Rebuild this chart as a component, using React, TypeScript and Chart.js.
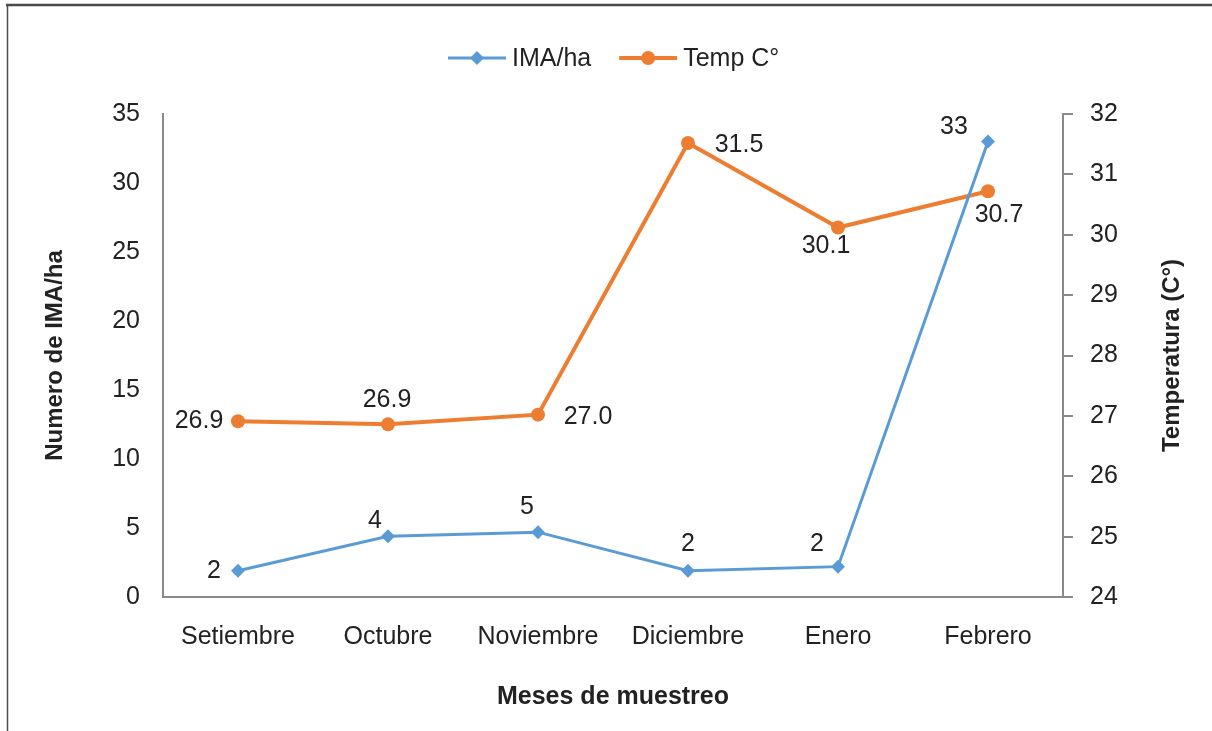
import React, { useEffect, useRef } from "react";
import { Chart, registerables } from "chart.js";

Chart.register(...registerables);

// ---- data ----
const categories = ["Setiembre", "Octubre", "Noviembre", "Diciembre", "Enero", "Febrero"];
const imaValues = [1.9, 4.4, 4.7, 1.9, 2.2, 33];
const tempValues = [26.91, 26.86, 27.02, 31.52, 30.12, 30.72];
const seriesNames = ["IMA/ha", "Temp C°"];
const leftAxisTitle = "Numero de IMA/ha";
const rightAxisTitle = "Temperatura (C°)";
const xAxisTitle = "Meses de muestreo";

// ---- style ----
const BLUE = "#5B9BD5";
const ORANGE = "#ED7D31";
const TEXT = "#222222";
const AXIS = "#8a8a8a";
const FONT = '"Liberation Sans", Arial, sans-serif';
const labelDecimals = [0, 1];
const labelOffsets: number[][][] = [
  [[-24, 0], [-13, -15], [-11, -25], [0, -27], [-21, -23], [-34, -14]],
  [[-39, 0], [-1, -24], [50, 2], [51, 2], [-12, 19], [11, 24]],
];

const pointLabelPlugin = {
  id: "pointLabels",
  afterDatasetsDraw(chart: any) {
    const ctx = chart.ctx;
    ctx.save();
    ctx.font = `25px ${FONT}`;
    ctx.fillStyle = TEXT;
    ctx.textAlign = "center";
    ctx.textBaseline = "middle";
    chart.data.datasets.forEach((ds: any, i: number) => {
      const meta = chart.getDatasetMeta(i);
      meta.data.forEach((pt: any, j: number) => {
        const v = ds.data[j] as number;
        const off = labelOffsets[i][j];
        ctx.fillText(v.toFixed(labelDecimals[i]), pt.x + off[0], pt.y + off[1]);
      });
    });
    ctx.restore();
  },
};

const decorPlugin = {
  id: "decor",
  afterDraw(chart: any) {
    const ctx = chart.ctx;
    const area = chart.chartArea;
    ctx.save();
    // frame
    ctx.strokeStyle = "#4a4a4a";
    ctx.lineWidth = 2.5;
    ctx.beginPath();
    ctx.moveTo(6, 5);
    ctx.lineTo(chart.width, 5);
    ctx.stroke();
    ctx.lineWidth = 1.5;
    ctx.beginPath();
    ctx.moveTo(7.5, 4);
    ctx.lineTo(7.5, chart.height);
    ctx.stroke();

    // right axis title (reads bottom to top)
    ctx.fillStyle = TEXT;
    ctx.font = `bold 24px ${FONT}`;
    ctx.textAlign = "center";
    ctx.textBaseline = "middle";
    ctx.translate(1172, (area.top + area.bottom) / 2);
    ctx.rotate(-Math.PI / 2);
    ctx.fillText(rightAxisTitle, 0, 0);
    ctx.setTransform(1, 0, 0, 1, 0, 0);

    // legend
    const cy = 58;
    let x = 448;
    ctx.font = `25px ${FONT}`;
    ctx.textAlign = "left";
    [0, 1].forEach((i) => {
      const ds = chart.data.datasets[i];
      const color = ds.borderColor;
      ctx.strokeStyle = color;
      ctx.lineWidth = ds.borderWidth;
      ctx.beginPath();
      ctx.moveTo(x, cy);
      ctx.lineTo(x + 58, cy);
      ctx.stroke();
      ctx.fillStyle = color;
      const mx = x + 29;
      if (ds.pointStyle === "rectRot") {
        ctx.beginPath();
        ctx.moveTo(mx, cy - 7);
        ctx.lineTo(mx + 7, cy);
        ctx.lineTo(mx, cy + 7);
        ctx.lineTo(mx - 7, cy);
        ctx.closePath();
        ctx.fill();
      } else {
        ctx.beginPath();
        ctx.arc(mx, cy, 7, 0, Math.PI * 2);
        ctx.fill();
      }
      ctx.fillStyle = TEXT;
      const tx = x + 64;
      ctx.fillText(ds.label, tx, cy + 1);
      x = tx + ctx.measureText(ds.label).width + 28;
    });
    ctx.restore();
  },
};

export default function App() {
  const ref = useRef<HTMLCanvasElement | null>(null);

  useEffect(() => {
    document.body.style.margin = "0";
    const canvas = ref.current;
    if (!canvas) return;
    const chart = new Chart(canvas, {
      type: "line",
      data: {
        labels: categories,
        datasets: [
          {
            label: seriesNames[0],
            data: imaValues,
            yAxisID: "y",
            borderColor: BLUE,
            backgroundColor: BLUE,
            borderWidth: 3,
            pointStyle: "rectRot",
            pointRadius: 7,
            pointBorderWidth: 0,
            pointBackgroundColor: BLUE,
            tension: 0,
          },
          {
            label: seriesNames[1],
            data: tempValues,
            yAxisID: "y1",
            borderColor: ORANGE,
            backgroundColor: ORANGE,
            borderWidth: 4,
            pointStyle: "circle",
            pointRadius: 7,
            pointBorderWidth: 0,
            pointBackgroundColor: ORANGE,
            tension: 0,
          },
        ],
      },
      options: {
        responsive: false,
        animation: false,
        layout: { padding: { top: 114, left: 0, right: 0, bottom: 0 } },
        plugins: {
          legend: { display: false },
          tooltip: { enabled: false },
        },
        scales: {
          x: {
            type: "category",
            offset: true,
            grid: { display: false, drawTicks: false },
            border: { display: true, color: AXIS, width: 2 },
            ticks: {
              padding: 25,
              color: TEXT,
              font: { family: FONT, size: 25 },
              maxRotation: 0,
              autoSkip: false,
            },
            title: {
              display: true,
              text: xAxisTitle,
              color: TEXT,
              font: { family: FONT, size: 25, weight: "bold" },
              padding: { top: 0, bottom: 19 },
            },
            afterFit(scale: any) {
              scale.height = 134;
            },
          },
          y: {
            position: "left",
            min: 0,
            max: 35,
            grid: { display: false, drawTicks: false },
            border: { display: true, color: AXIS, width: 2 },
            ticks: {
              stepSize: 5,
              padding: 23,
              color: TEXT,
              font: { family: FONT, size: 25 },
            },
            title: {
              display: true,
              text: leftAxisTitle,
              color: TEXT,
              font: { family: FONT, size: 24, weight: "bold" },
              padding: { top: 41, bottom: 0 },
            },
            afterFit(scale: any) {
              scale.width = 163;
            },
          },
          y1: {
            position: "right",
            min: 24,
            max: 32,
            grid: {
              display: true,
              drawOnChartArea: false,
              drawTicks: true,
              tickLength: 10,
              color: AXIS,
              lineWidth: 2,
            },
            border: { display: true, color: AXIS, width: 2 },
            ticks: {
              stepSize: 1,
              padding: 17,
              color: TEXT,
              font: { family: FONT, size: 25 },
            },
            title: { display: false },
            afterFit(scale: any) {
              scale.width = 149;
            },
          },
        },
      },
      plugins: [pointLabelPlugin, decorPlugin],
    } as any);
    return () => chart.destroy();
  }, []);

  return (
    <div style={{ width: 1212, height: 731 }}>
      <canvas ref={ref} width={1212} height={731} style={{ display: "block" }} />
    </div>
  );
}
